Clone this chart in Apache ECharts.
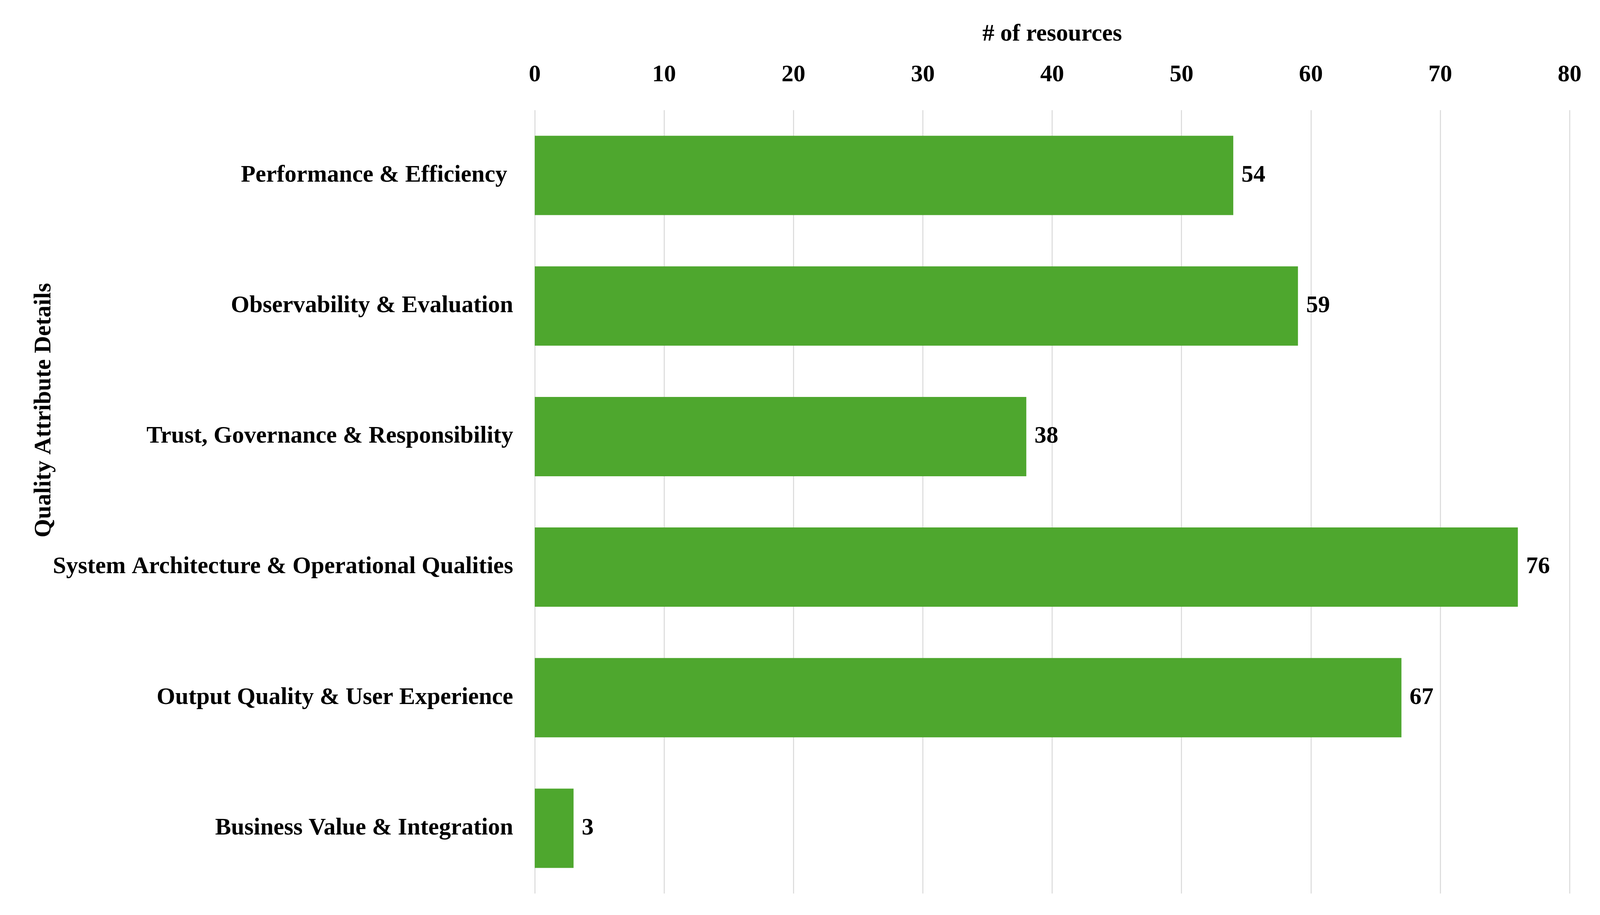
<!DOCTYPE html>
<html>
<head>
<meta charset="utf-8">
<script src="https://cdn.jsdelivr.net/npm/echarts@6/dist/echarts.min.js"></script>
<style>
html,body{margin:0;padding:0;background:#fff;overflow:hidden;}
#chart{width:100vw;height:100vh;}
</style>
</head>
<body>
<div id="chart"></div>
<script>
const categories = [
  'Performance & Efficiency ',
  'Observability & Evaluation',
  'Trust, Governance & Responsibility',
  'System Architecture & Operational Qualities',
  'Output Quality & User Experience',
  'Business Value & Integration'
];
const resourceCounts = [54, 59, 38, 76, 67, 3];
const xTicks = { min: 0, max: 80, interval: 10 };
const xAxisName = '# of resources';
const yAxisName = 'Quality Attribute Details';

const FONT = '"Liberation Serif", "Times New Roman", serif';
const el = document.getElementById('chart');
const chart = echarts.init(el);
const W = chart.getWidth(), H = chart.getHeight();
const kx = W / 4895, ky = H / 2342, k = Math.min(kx, ky);
const fs = 73 * k;
const gridTop = 282 * ky;
chart.setOption({
  backgroundColor: '#ffffff',
  animation: false,
  grid: { left: 1636 * kx, right: 93 * kx, top: gridTop, bottom: 55 * ky, containLabel: false },
  xAxis: {
    type: 'value',
    position: 'top',
    min: xTicks.min, max: xTicks.max, interval: xTicks.interval,
    name: xAxisName,
    nameLocation: 'middle',
    nameGap: gridTop - (88 * ky + fs / 2),
    nameTextStyle: { fontFamily: FONT, fontWeight: 'bold', fontSize: fs, color: '#000' },
    axisLine: { show: false },
    axisTick: { show: false },
    axisLabel: { fontFamily: FONT, fontWeight: 'bold', fontSize: fs, color: '#000', margin: gridTop - (192 * ky + fs / 2) },
    splitLine: { show: true, lineStyle: { color: '#D9D9D9', width: 3 * k } }
  },
  yAxis: {
    type: 'category',
    data: categories,
    inverse: true,
    axisLine: { show: false },
    axisTick: { show: false },
    axisLabel: { fontFamily: FONT, fontWeight: 'bold', fontSize: fs, color: '#000', margin: 66 * kx }
  },
  graphic: [{
    type: 'text',
    x: 135 * kx, y: 1050 * ky,
    rotation: Math.PI / 2,
    style: {
      text: yAxisName,
      fontFamily: FONT, fontWeight: 'bold', fontSize: fs, fill: '#000',
      textAlign: 'center', textVerticalAlign: 'middle'
    }
  }],
  series: [{
    type: 'bar',
    data: resourceCounts,
    barWidth: 203 * ky,
    itemStyle: { color: '#4EA72E' },
    label: {
      show: true, position: 'right', distance: 25 * kx,
      fontFamily: FONT, fontWeight: 'bold', fontSize: fs, color: '#000'
    }
  }]
});
</script>
</body>
</html>
